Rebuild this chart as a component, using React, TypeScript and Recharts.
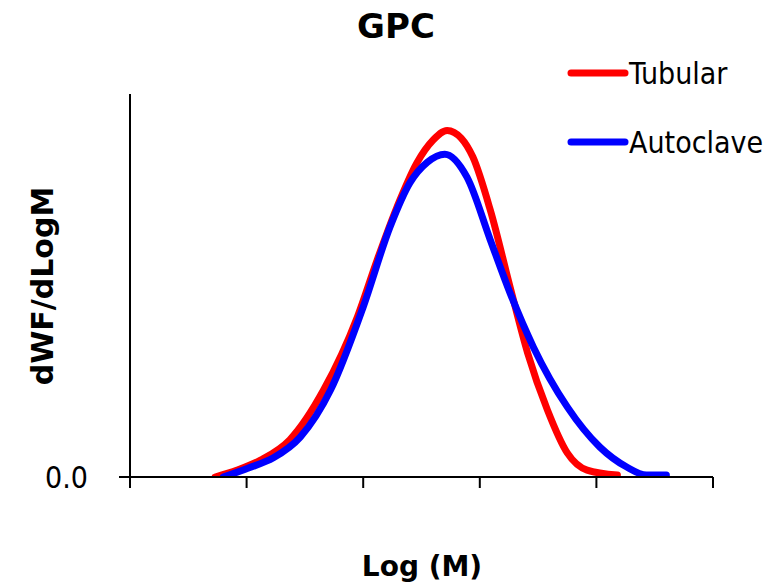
import React from "react";
import { LineChart, Line, XAxis, YAxis, Customized } from "recharts";

const xTicks = [0, 1, 2, 3, 4, 5];
const yTicks = [0];

const tubularX = [0.73, 0.92, 1.12, 1.37, 1.66, 1.95, 2.12, 2.29, 2.46, 2.6, 2.72, 2.84, 2.94, 3.09, 3.26, 3.41, 3.58, 3.75, 3.92, 4.18];
const tubularY = [0.0, 0.018, 0.044, 0.097, 0.227, 0.418, 0.567, 0.705, 0.82, 0.88, 0.905, 0.885, 0.836, 0.697, 0.496, 0.324, 0.175, 0.063, 0.018, 0.005];

const autoclaveX = [0.8, 1.01, 1.23, 1.46, 1.72, 2.0, 2.23, 2.4, 2.55, 2.7, 2.89, 3.09, 3.26, 3.46, 3.75, 4.03, 4.26, 4.43, 4.6];
const autoclaveY = [0.0, 0.023, 0.05, 0.104, 0.227, 0.444, 0.653, 0.768, 0.822, 0.843, 0.783, 0.619, 0.48, 0.339, 0.183, 0.078, 0.026, 0.005, 0.005];

const tubular = tubularX.map((x, i) => ({ x, y: tubularY[i] }));
const autoclave = autoclaveX.map((x, i) => ({ x, y: autoclaveY[i] }));

const seriesNames = ["Tubular", "Autoclave"];
const seriesColors = ["#FF0000", "#0000FF"];

const regularFont = "'DejaVu Sans Condensed', 'Liberation Sans', Arial, sans-serif";
const boldFont = "'DejaVu Sans', Verdana, sans-serif";

const LegendAndTitles = () => (
  <g>
    {seriesNames.map((name, i) => {
      const cy = 73 + i * 69;
      return (
        <g key={name}>
          <line x1={571} x2={625} y1={cy} y2={cy} stroke={seriesColors[i]} strokeWidth={7} strokeLinecap="round" />
          <text x={629} y={cy + 11} fontSize={30} fontFamily={regularFont} fill="#000">
            {name}
          </text>
        </g>
      );
    })}
    <text x={396} y={38} textAnchor="middle" fontSize={34} fontWeight="bold" fontFamily={boldFont} fill="#000">
      GPC
    </text>
    <text x={422} y={576} textAnchor="middle" fontSize={28} fontWeight="bold" fontFamily={boldFont} fill="#000">
      Log (M)
    </text>
    <text
      x={0}
      y={0}
      transform="translate(53, 286) rotate(-90)"
      textAnchor="middle"
      fontSize={30}
      fontWeight="bold"
      fontFamily={boldFont}
      fill="#000"
    >
      dWF/dLogM
    </text>
  </g>
);

export default function App() {
  return (
    <div style={{ position: "absolute", left: 0, top: 0, width: 769, height: 583, background: "#fff" }}>
      <LineChart width={769} height={583} margin={{ top: 94, right: 56, bottom: 76, left: 70 }}>
        <XAxis
          type="number"
          dataKey="x"
          domain={[0, 5]}
          ticks={xTicks}
          tickFormatter={() => ""}
          tickSize={11}
          height={30}
          axisLine={{ stroke: "#000", strokeWidth: 2 }}
          tickLine={{ stroke: "#000", strokeWidth: 2 }}
          allowDataOverflow
        />
        <YAxis
          type="number"
          dataKey="y"
          domain={[0, 1]}
          ticks={yTicks}
          tickFormatter={(v: number) => v.toFixed(1)}
          tickSize={11}
          tickMargin={31}
          width={60}
          axisLine={{ stroke: "#000", strokeWidth: 2 }}
          tickLine={{ stroke: "#000", strokeWidth: 2 }}
          tick={{ fontSize: 30, fill: "#000", fontFamily: regularFont }}
          allowDataOverflow
        />
        <Line
          data={tubular}
          dataKey="y"
          name={seriesNames[0]}
          type="monotone"
          stroke={seriesColors[0]}
          strokeWidth={7}
          strokeLinecap="round"
          dot={false}
          isAnimationActive={false}
        />
        <Line
          data={autoclave}
          dataKey="y"
          name={seriesNames[1]}
          type="monotone"
          stroke={seriesColors[1]}
          strokeWidth={7}
          strokeLinecap="round"
          dot={false}
          isAnimationActive={false}
        />
        <Customized component={LegendAndTitles} />
      </LineChart>
    </div>
  );
}
